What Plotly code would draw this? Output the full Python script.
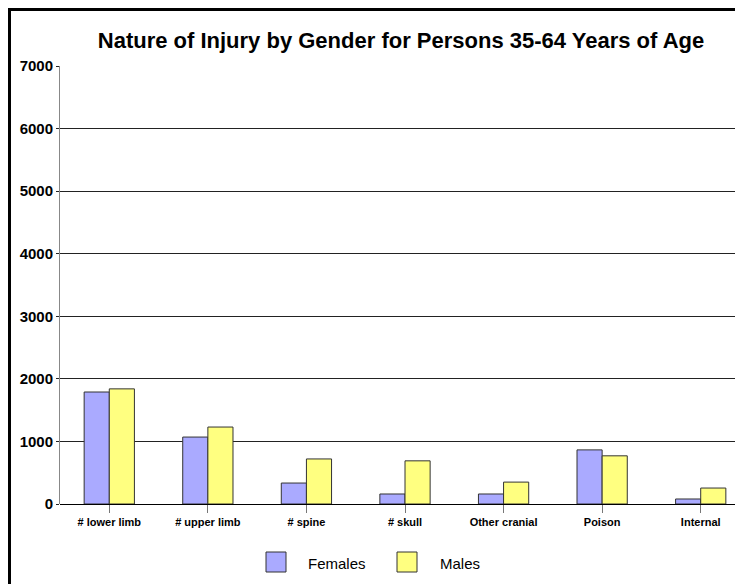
import plotly.graph_objects as go

# injury categories and counts
categories = ['# lower limb', '# upper limb', '# spine', '# skull', 'Other cranial', 'Poison', 'Internal']
females = [1790, 1070, 335, 160, 160, 865, 80]
males = [1840, 1230, 720, 690, 350, 770, 255]
y_ticks = [0, 1000, 2000, 3000, 4000, 5000, 6000, 7000]

colors = {
    'females': '#AAAAFF',
    'males': '#FFFF80',
    'outline': '#333333',
    'grid': '#222222',
}

W, H = 743, 584
ml, mr, mt, mb = 52, 1, 58, 88
pw = W - ml - mr
ph = H - mt - mb


def px_x(p):
    return (p - ml) / pw


def px_y(p):
    return (H - mb - p) / ph


fig = go.Figure()
fig.add_trace(go.Bar(x=categories, y=females, name='Females',
                     marker=dict(color=colors['females'], line=dict(color=colors['outline'], width=1))))
fig.add_trace(go.Bar(x=categories, y=males, name='Males',
                     marker=dict(color=colors['males'], line=dict(color=colors['outline'], width=1))))

fig.update_layout(
    width=W, height=H,
    margin=dict(l=ml, r=mr, t=mt, b=mb),
    paper_bgcolor='white',
    plot_bgcolor='white',
    barmode='group',
    bargap=0.49,
    bargroupgap=0,
    showlegend=False,
    font=dict(family='Liberation Sans, Arial, sans-serif', color='black'),
    title=dict(text='Nature of Injury by Gender for Persons 35-64 Years of Age',
               x=393 / W, xanchor='center', y=1 - 32 / H, yanchor='middle',
               font=dict(size=22, weight='bold', color='black')),
)

fig.update_xaxes(range=[-0.5, 6.5], showgrid=False, showline=False,
                 ticks='outside', ticklen=8, tickcolor='#777777', tickwidth=1,
                 tickfont=dict(size=11, weight='bold'))
fig.update_yaxes(range=[0, 7000], tickvals=y_ticks, showgrid=True, gridcolor=colors['grid'],
                 gridwidth=1, zeroline=True, zerolinecolor='black', zerolinewidth=1,
                 showline=True, linecolor='#888888', linewidth=1,
                 ticks='outside', ticklen=3, tickcolor=colors['grid'],
                 tickfont=dict(size=15, weight='bold'))

# outer frame round the whole figure
fig.add_shape(type='rect', xref='paper', yref='paper',
              x0=px_x(1.5), x1=px_x(W - 1.5), y0=px_y(H - 1.5), y1=px_y(1.5),
              line=dict(color='black', width=3), fillcolor='rgba(0,0,0,0)')

# legend drawn by hand to match box size
for name, col, bx, tx in [('Females', colors['females'], 258, 298), ('Males', colors['males'], 389, 430)]:
    fig.add_shape(type='rect', xref='paper', yref='paper',
                  x0=px_x(bx), x1=px_x(bx + 20), y0=px_y(564), y1=px_y(544),
                  line=dict(color=colors['outline'], width=1), fillcolor=col)
    fig.add_annotation(text=name, xref='paper', yref='paper', x=px_x(tx), y=px_y(555),
                       xanchor='left', yanchor='middle', showarrow=False,
                       font=dict(size=15, color='black'))

fig.write_html("out.html")
